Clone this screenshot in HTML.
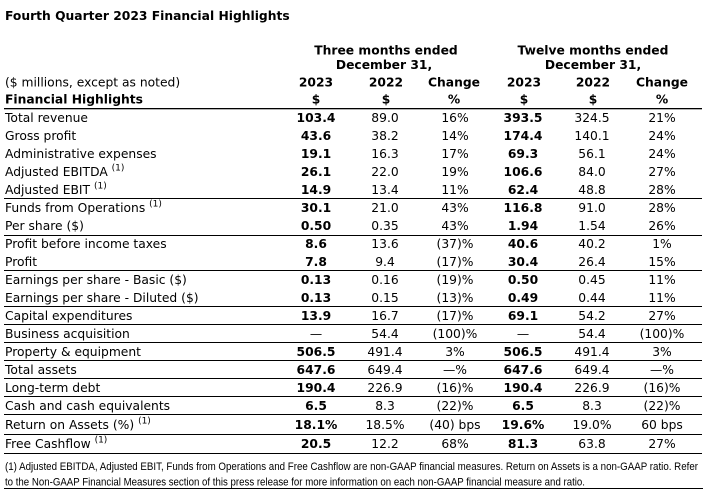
<!DOCTYPE html>
<html>
<head>
<meta charset="utf-8">
<style>
  html, body { margin: 0; padding: 0; background: #ffffff; }
  body { width: 706px; height: 502px; overflow: hidden; }
  svg { display: block; }
  .t { font-family: "DejaVu Sans", "Liberation Sans", sans-serif; font-size: 12.3px; fill: #000; }
  .b { font-weight: bold; }
  .c { text-anchor: middle; }
  .fn { font-family: "Liberation Sans", "DejaVu Sans", sans-serif; font-size: 11px; fill: #000; }
</style>
</head>
<body>
<svg width="706" height="502" viewBox="0 0 706 502" xmlns="http://www.w3.org/2000/svg">
  <rect x="0" y="0" width="706" height="502" fill="#fff"/>

  <!-- Title -->
  <text class="t b" x="5" y="20">Fourth Quarter 2023 Financial Highlights</text>

  <!-- Group headers -->
  <text class="t b c" x="386" y="54.5">Three months ended</text>
  <text class="t b c" x="384" y="69">December 31,</text>
  <text class="t b c" x="593" y="54.5">Twelve months ended</text>
  <text class="t b c" x="593" y="69">December 31,</text>

  <!-- Column headers -->
  <text class="t" x="5" y="86.5">($ millions, except as noted)</text>
  <text class="t b c" x="316" y="86.5">2023</text>
  <text class="t b c" x="386" y="86.5">2022</text>
  <text class="t b c" x="454" y="86.5">Change</text>
  <text class="t b c" x="524" y="86.5">2023</text>
  <text class="t b c" x="593" y="86.5">2022</text>
  <text class="t b c" x="662" y="86.5">Change</text>

  <text class="t b" x="5" y="103.5">Financial Highlights</text>
  <text class="t b c" x="316" y="103.5">$</text>
  <text class="t b c" x="386" y="103.5">$</text>
  <text class="t b c" x="454" y="103.5">%</text>
  <text class="t b c" x="524" y="103.5">$</text>
  <text class="t b c" x="593" y="103.5">$</text>
  <text class="t b c" x="662" y="103.5">%</text>

  <!-- Lines -->
  <g fill="#000">
    <rect x="4" y="108" width="698" height="1.3"/>
    <rect x="4" y="198" width="698" height="1"/>
    <rect x="4" y="235" width="698" height="1"/>
    <rect x="4" y="270" width="698" height="1"/>
    <rect x="4" y="306" width="698" height="1"/>
    <rect x="4" y="324" width="698" height="1"/>
    <rect x="4" y="342" width="698" height="1"/>
    <rect x="4" y="360" width="698" height="1"/>
    <rect x="4" y="378" width="698" height="1"/>
    <rect x="4" y="396" width="698" height="1"/>
    <rect x="4" y="414" width="698" height="1"/>
    <rect x="4" y="434" width="698" height="1"/>
    <rect x="4" y="453" width="698" height="1"/>
    <rect x="4" y="488" width="699" height="1"/>
  </g>

  <!-- Rows -->
  <g>
    <text class="t" x="5" y="122">Total revenue</text>
    <text class="t b c" x="316" y="122">103.4</text>
    <text class="t c" x="385" y="122">89.0</text>
    <text class="t c" x="455" y="122">16%</text>
    <text class="t b c" x="523" y="122">393.5</text>
    <text class="t c" x="592" y="122">324.5</text>
    <text class="t c" x="662" y="122">21%</text>

    <text class="t" x="5" y="140">Gross profit</text>
    <text class="t b c" x="316" y="140">43.6</text>
    <text class="t c" x="385" y="140">38.2</text>
    <text class="t c" x="455" y="140">14%</text>
    <text class="t b c" x="523" y="140">174.4</text>
    <text class="t c" x="592" y="140">140.1</text>
    <text class="t c" x="662" y="140">24%</text>

    <text class="t" x="5" y="158">Administrative expenses</text>
    <text class="t b c" x="316" y="158">19.1</text>
    <text class="t c" x="385" y="158">16.3</text>
    <text class="t c" x="455" y="158">17%</text>
    <text class="t b c" x="523" y="158">69.3</text>
    <text class="t c" x="592" y="158">56.1</text>
    <text class="t c" x="662" y="158">24%</text>

    <text class="t" x="5" y="176">Adjusted EBITDA <tspan font-size="9" dy="-5.5">(1)</tspan></text>
    <text class="t b c" x="316" y="176">26.1</text>
    <text class="t c" x="385" y="176">22.0</text>
    <text class="t c" x="455" y="176">19%</text>
    <text class="t b c" x="523" y="176">106.6</text>
    <text class="t c" x="592" y="176">84.0</text>
    <text class="t c" x="662" y="176">27%</text>

    <text class="t" x="5" y="194">Adjusted EBIT <tspan font-size="9" dy="-5.5">(1)</tspan></text>
    <text class="t b c" x="316" y="194">14.9</text>
    <text class="t c" x="385" y="194">13.4</text>
    <text class="t c" x="455" y="194">11%</text>
    <text class="t b c" x="523" y="194">62.4</text>
    <text class="t c" x="592" y="194">48.8</text>
    <text class="t c" x="662" y="194">28%</text>

    <text class="t" x="5" y="212">Funds from Operations <tspan font-size="9" dy="-5.5">(1)</tspan></text>
    <text class="t b c" x="316" y="212">30.1</text>
    <text class="t c" x="385" y="212">21.0</text>
    <text class="t c" x="455" y="212">43%</text>
    <text class="t b c" x="523" y="212">116.8</text>
    <text class="t c" x="592" y="212">91.0</text>
    <text class="t c" x="662" y="212">28%</text>

    <text class="t" x="5" y="230">Per share ($)</text>
    <text class="t b c" x="316" y="230">0.50</text>
    <text class="t c" x="385" y="230">0.35</text>
    <text class="t c" x="455" y="230">43%</text>
    <text class="t b c" x="523" y="230">1.94</text>
    <text class="t c" x="592" y="230">1.54</text>
    <text class="t c" x="662" y="230">26%</text>

    <text class="t" x="5" y="248">Profit before income taxes</text>
    <text class="t b c" x="316" y="248">8.6</text>
    <text class="t c" x="385" y="248">13.6</text>
    <text class="t c" x="455" y="248">(37)%</text>
    <text class="t b c" x="523" y="248">40.6</text>
    <text class="t c" x="592" y="248">40.2</text>
    <text class="t c" x="662" y="248">1%</text>

    <text class="t" x="5" y="266">Profit</text>
    <text class="t b c" x="316" y="266">7.8</text>
    <text class="t c" x="385" y="266">9.4</text>
    <text class="t c" x="455" y="266">(17)%</text>
    <text class="t b c" x="523" y="266">30.4</text>
    <text class="t c" x="592" y="266">26.4</text>
    <text class="t c" x="662" y="266">15%</text>

    <text class="t" x="5" y="284">Earnings per share - Basic ($)</text>
    <text class="t b c" x="316" y="284">0.13</text>
    <text class="t c" x="385" y="284">0.16</text>
    <text class="t c" x="455" y="284">(19)%</text>
    <text class="t b c" x="523" y="284">0.50</text>
    <text class="t c" x="592" y="284">0.45</text>
    <text class="t c" x="662" y="284">11%</text>

    <text class="t" x="5" y="302">Earnings per share - Diluted ($)</text>
    <text class="t b c" x="316" y="302">0.13</text>
    <text class="t c" x="385" y="302">0.15</text>
    <text class="t c" x="455" y="302">(13)%</text>
    <text class="t b c" x="523" y="302">0.49</text>
    <text class="t c" x="592" y="302">0.44</text>
    <text class="t c" x="662" y="302">11%</text>

    <text class="t" x="5" y="320">Capital expenditures</text>
    <text class="t b c" x="316" y="320">13.9</text>
    <text class="t c" x="385" y="320">16.7</text>
    <text class="t c" x="455" y="320">(17)%</text>
    <text class="t b c" x="523" y="320">69.1</text>
    <text class="t c" x="592" y="320">54.2</text>
    <text class="t c" x="662" y="320">27%</text>

    <text class="t" x="5" y="338">Business acquisition</text>
    <text class="t c" x="316" y="338">—</text>
    <text class="t c" x="385" y="338">54.4</text>
    <text class="t c" x="455" y="338">(100)%</text>
    <text class="t c" x="523" y="338">—</text>
    <text class="t c" x="592" y="338">54.4</text>
    <text class="t c" x="662" y="338">(100)%</text>

    <text class="t" x="5" y="356">Property &amp; equipment</text>
    <text class="t b c" x="316" y="356">506.5</text>
    <text class="t c" x="385" y="356">491.4</text>
    <text class="t c" x="455" y="356">3%</text>
    <text class="t b c" x="523" y="356">506.5</text>
    <text class="t c" x="592" y="356">491.4</text>
    <text class="t c" x="662" y="356">3%</text>

    <text class="t" x="5" y="374">Total assets</text>
    <text class="t b c" x="316" y="374">647.6</text>
    <text class="t c" x="385" y="374">649.4</text>
    <text class="t c" x="455" y="374">—%</text>
    <text class="t b c" x="523" y="374">647.6</text>
    <text class="t c" x="592" y="374">649.4</text>
    <text class="t c" x="662" y="374">—%</text>

    <text class="t" x="5" y="392">Long-term debt</text>
    <text class="t b c" x="316" y="392">190.4</text>
    <text class="t c" x="385" y="392">226.9</text>
    <text class="t c" x="455" y="392">(16)%</text>
    <text class="t b c" x="523" y="392">190.4</text>
    <text class="t c" x="592" y="392">226.9</text>
    <text class="t c" x="662" y="392">(16)%</text>

    <text class="t" x="5" y="410">Cash and cash equivalents</text>
    <text class="t b c" x="316" y="410">6.5</text>
    <text class="t c" x="385" y="410">8.3</text>
    <text class="t c" x="455" y="410">(22)%</text>
    <text class="t b c" x="523" y="410">6.5</text>
    <text class="t c" x="592" y="410">8.3</text>
    <text class="t c" x="662" y="410">(22)%</text>

    <text class="t" x="5" y="429">Return on Assets (%) <tspan font-size="9" dy="-5.5">(1)</tspan></text>
    <text class="t b c" x="316" y="429">18.1%</text>
    <text class="t c" x="385" y="429">18.5%</text>
    <text class="t c" x="455" y="429">(40) bps</text>
    <text class="t b c" x="523" y="429">19.6%</text>
    <text class="t c" x="592" y="429">19.0%</text>
    <text class="t c" x="662" y="429">60 bps</text>

    <text class="t" x="5" y="448">Free Cashflow <tspan font-size="9" dy="-5.5">(1)</tspan></text>
    <text class="t b c" x="316" y="448">20.5</text>
    <text class="t c" x="385" y="448">12.2</text>
    <text class="t c" x="455" y="448">68%</text>
    <text class="t b c" x="523" y="448">81.3</text>
    <text class="t c" x="592" y="448">63.8</text>
    <text class="t c" x="662" y="448">27%</text>
  </g>

  <!-- Footnote -->
  <text class="fn" x="5" y="470" textLength="693" lengthAdjust="spacingAndGlyphs">(1) Adjusted EBITDA, Adjusted EBIT, Funds from Operations and Free Cashflow are non-GAAP financial measures. Return on Assets is a non-GAAP ratio. Refer</text>
  <text class="fn" x="5" y="485.5" textLength="580" lengthAdjust="spacingAndGlyphs">to the Non-GAAP Financial Measures section of this press release for more information on each non-GAAP financial measure and ratio.</text>
</svg>
</body>
</html>
